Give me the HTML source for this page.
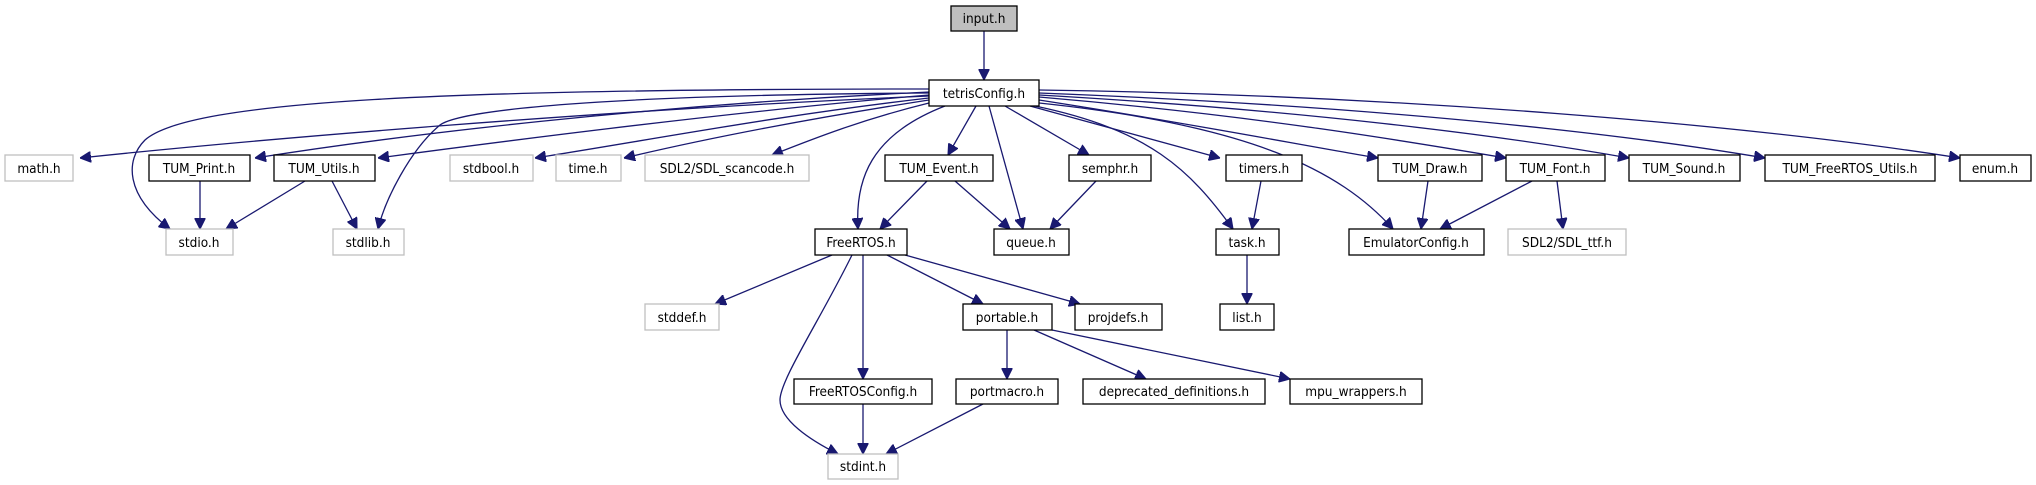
<!DOCTYPE html>
<html><head><meta charset="utf-8"><style>
html,body{margin:0;padding:0;background:#fff;}
svg{display:block;}
text{font-family:"DejaVu Sans Condensed","Liberation Sans Narrow","Liberation Sans",sans-serif;font-size:13.5px;fill:#000;text-anchor:middle;}
.b{fill:#fff;stroke:#000;stroke-width:1.3;}
.g{fill:#fff;stroke:#bfbfbf;stroke-width:1.3;}
.e{fill:none;stroke:#191970;stroke-width:1.3;}
</style></head><body>
<svg width="2036" height="485" viewBox="0 0 2036 485" xmlns="http://www.w3.org/2000/svg">
<defs><marker id="a" viewBox="0 0 10 10" refX="10" refY="5" markerWidth="11" markerHeight="11" markerUnits="userSpaceOnUse" orient="auto"><path d="M0,0 L10,5 L0,10 z" fill="#191970" stroke="#191970"/></marker></defs>
<g class="edges">
<path class="e" marker-end="url(#a)" d="M984,31 L984,80"/>
<path class="e" marker-end="url(#a)" d="M929,96 C600,110 250,140 80,158"/>
<path class="e" marker-end="url(#a)" d="M929,89 C450,89 190,100 145,140 C125,160 125,195 170,229"/>
<path class="e" marker-end="url(#a)" d="M929,92 C650,105 400,135 255,158"/>
<path class="e" marker-end="url(#a)" d="M929,95 C750,110 550,135 378,158"/>
<path class="e" marker-end="url(#a)" d="M929,93 C600,95 460,110 440,125 C410,150 385,200 378,229"/>
<path class="e" marker-end="url(#a)" d="M929,98 C780,115 650,140 535,158"/>
<path class="e" marker-end="url(#a)" d="M929,100 C800,120 700,140 624,158"/>
<path class="e" marker-end="url(#a)" d="M929,103 C860,120 810,140 772,155"/>
<path class="e" marker-end="url(#a)" d="M945,106 C870,135 855,180 858,229"/>
<path class="e" marker-end="url(#a)" d="M976,106 L948,155"/>
<path class="e" marker-end="url(#a)" d="M989,106 L1023,229"/>
<path class="e" marker-end="url(#a)" d="M1005,106 L1089,155"/>
<path class="e" marker-end="url(#a)" d="M1030,106 L1220,158"/>
<path class="e" marker-end="url(#a)" d="M1035,106 C1150,130 1190,170 1233,229"/>
<path class="e" marker-end="url(#a)" d="M1039,103 C1250,125 1340,170 1393,229"/>
<path class="e" marker-end="url(#a)" d="M1039,100 C1200,125 1300,145 1378,158"/>
<path class="e" marker-end="url(#a)" d="M1039,97 C1250,115 1400,140 1506,158"/>
<path class="e" marker-end="url(#a)" d="M1039,95 C1300,110 1500,135 1629,158"/>
<path class="e" marker-end="url(#a)" d="M1039,93 C1350,105 1600,130 1765,158"/>
<path class="e" marker-end="url(#a)" d="M1039,90 C1400,95 1750,125 1960,158"/>
<path class="e" marker-end="url(#a)" d="M200,181 L200,229"/>
<path class="e" marker-end="url(#a)" d="M305,181 L226,229"/>
<path class="e" marker-end="url(#a)" d="M332,181 L357,229"/>
<path class="e" marker-end="url(#a)" d="M927,181 L880,229"/>
<path class="e" marker-end="url(#a)" d="M955,181 L1010,229"/>
<path class="e" marker-end="url(#a)" d="M1096,181 L1050,229"/>
<path class="e" marker-end="url(#a)" d="M1261,181 L1252,229"/>
<path class="e" marker-end="url(#a)" d="M1428,181 L1421,229"/>
<path class="e" marker-end="url(#a)" d="M1532,181 L1440,229"/>
<path class="e" marker-end="url(#a)" d="M1557,181 L1563,229"/>
<path class="e" marker-end="url(#a)" d="M832,255 L715,304"/>
<path class="e" marker-end="url(#a)" d="M887,255 L983,304"/>
<path class="e" marker-end="url(#a)" d="M905,255 L1080,304"/>
<path class="e" marker-end="url(#a)" d="M863,255 L863,379"/>
<path class="e" marker-end="url(#a)" d="M852,255 C820,320 780,380 780,400 C780,420 810,440 838,454"/>
<path class="e" marker-end="url(#a)" d="M1247,255 L1247,304"/>
<path class="e" marker-end="url(#a)" d="M1007,330 L1007,379"/>
<path class="e" marker-end="url(#a)" d="M1034,330 L1146,379"/>
<path class="e" marker-end="url(#a)" d="M1052,330 L1290,379"/>
<path class="e" marker-end="url(#a)" d="M863,404 L863,454"/>
<path class="e" marker-end="url(#a)" d="M983,404 L886,454"/>
</g>
<g>
<rect x="951" y="6" width="66" height="25" fill="#bfbfbf" stroke="#000" stroke-width="1.3"/><text x="984" y="23">input.h</text>
<rect class="b" x="929" y="80" width="110" height="26"/><text x="984" y="98">tetrisConfig.h</text>

<rect class="g" x="5" y="155" width="68" height="26"/><text x="39" y="173">math.h</text>
<rect class="b" x="149" y="155" width="101" height="26"/><text x="199" y="173">TUM_Print.h</text>
<rect class="b" x="274" y="155" width="101" height="26"/><text x="324" y="173">TUM_Utils.h</text>
<rect class="g" x="450" y="155" width="83" height="26"/><text x="491" y="173">stdbool.h</text>
<rect class="g" x="556" y="155" width="65" height="26"/><text x="588" y="173">time.h</text>
<rect class="g" x="645" y="155" width="164" height="26"/><text x="727" y="173">SDL2/SDL_scancode.h</text>
<rect class="b" x="885" y="155" width="108" height="26"/><text x="939" y="173">TUM_Event.h</text>
<rect class="b" x="1069" y="155" width="82" height="26"/><text x="1110" y="173">semphr.h</text>
<rect class="b" x="1226" y="155" width="76" height="26"/><text x="1264" y="173">timers.h</text>
<rect class="b" x="1378" y="155" width="104" height="26"/><text x="1430" y="173">TUM_Draw.h</text>
<rect class="b" x="1506" y="155" width="99" height="26"/><text x="1555" y="173">TUM_Font.h</text>
<rect class="b" x="1629" y="155" width="111" height="26"/><text x="1684" y="173">TUM_Sound.h</text>
<rect class="b" x="1765" y="155" width="170" height="26"/><text x="1850" y="173">TUM_FreeRTOS_Utils.h</text>
<rect class="b" x="1960" y="155" width="71" height="26"/><text x="1995" y="173">enum.h</text>

<rect class="g" x="166" y="229" width="67" height="26"/><text x="199" y="247">stdio.h</text>
<rect class="g" x="333" y="229" width="71" height="26"/><text x="368" y="247">stdlib.h</text>
<rect class="b" x="815" y="229" width="92" height="26"/><text x="861" y="247">FreeRTOS.h</text>
<rect class="b" x="994" y="229" width="75" height="26"/><text x="1031" y="247">queue.h</text>
<rect class="b" x="1216" y="229" width="63" height="26"/><text x="1247" y="247">task.h</text>
<rect class="b" x="1349" y="229" width="135" height="26"/><text x="1416" y="247">EmulatorConfig.h</text>
<rect class="g" x="1508" y="229" width="118" height="26"/><text x="1567" y="247">SDL2/SDL_ttf.h</text>

<rect class="g" x="645" y="304" width="74" height="26"/><text x="682" y="322">stddef.h</text>
<rect class="b" x="963" y="304" width="89" height="26"/><text x="1007" y="322">portable.h</text>
<rect class="b" x="1075" y="304" width="87" height="26"/><text x="1118" y="322">projdefs.h</text>
<rect class="b" x="1220" y="304" width="54" height="26"/><text x="1247" y="322">list.h</text>

<rect class="b" x="794" y="379" width="138" height="25"/><text x="863" y="396">FreeRTOSConfig.h</text>
<rect class="b" x="956" y="379" width="102" height="25"/><text x="1007" y="396">portmacro.h</text>
<rect class="b" x="1083" y="379" width="182" height="25"/><text x="1174" y="396">deprecated_definitions.h</text>
<rect class="b" x="1290" y="379" width="132" height="25"/><text x="1356" y="396">mpu_wrappers.h</text>

<rect class="g" x="828" y="454" width="70" height="25"/><text x="863" y="471">stdint.h</text>
</g>
</svg>
</body></html>
